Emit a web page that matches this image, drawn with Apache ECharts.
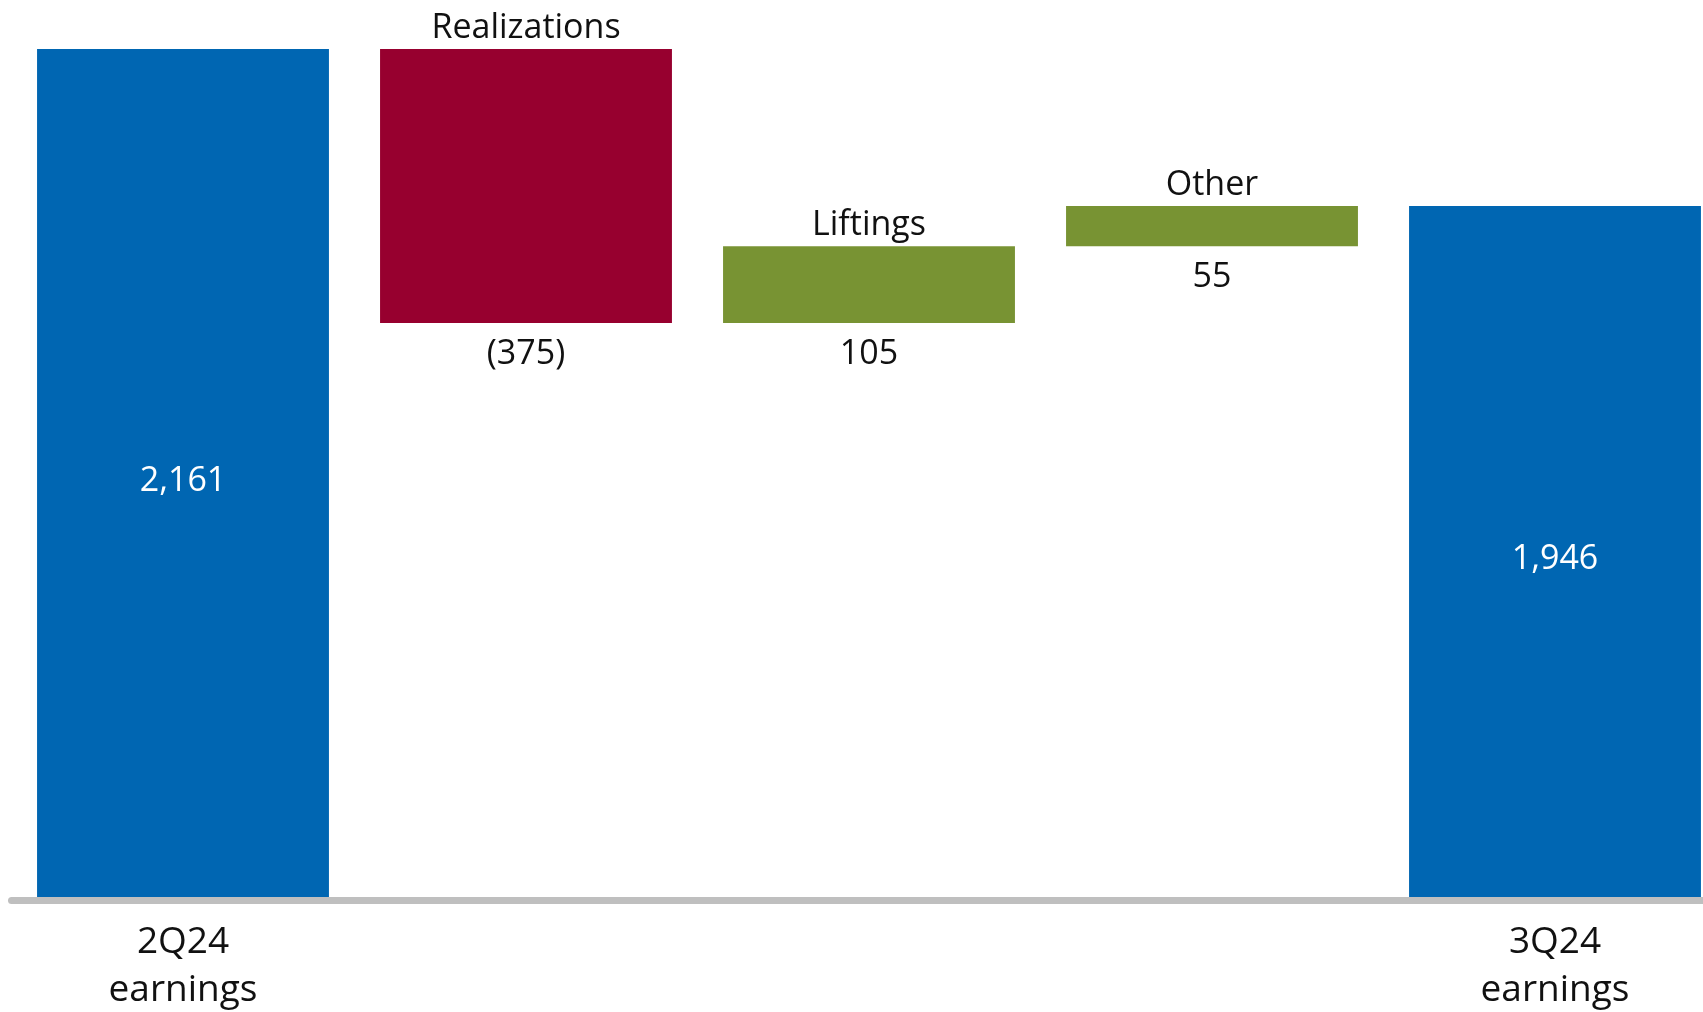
<!DOCTYPE html>
<html>
<head>
<meta charset="utf-8">
<title>Earnings walk 2Q24 to 3Q24</title>
<script src="https://cdn.jsdelivr.net/npm/echarts@6/dist/echarts.min.js"></script>
<style>
  html, body { margin: 0; padding: 0; background: #fff; }
  #chart { width: 1703px; height: 1012px; }
</style>
</head>
<body>
<div id="chart"></div>
<script>
// Earnings bridge, $ millions
const categories = ['2Q24 earnings', 'Realizations', 'Liftings', 'Other', '3Q24 earnings'];
const totals = [2161, null, null, null, 1946];
const changes = [null, -375, 105, 55, null];

const Y_MIN = 1000;
const Y_MAX = 2200;
const FONT = '"Open Sans", "Noto Sans", sans-serif';
const BLUE = '#0066b2';
const RED = '#97002f';
const GREEN = '#789333';

// Build [index, low, high, value, kind] rows for the walk
const rows = [];
let running = 0;
categories.forEach((name, i) => {
  if (totals[i] != null) {
    running = totals[i];
    rows.push([i, Y_MIN, totals[i], totals[i], 'total']);
  } else {
    const d = changes[i];
    const lo = Math.min(running, running + d);
    const hi = Math.max(running, running + d);
    rows.push([i, lo, hi, d, 'change']);
    running += d;
  }
});

function fmtTotal(v) {
  return v.toLocaleString('en-US');
}
function fmtChange(v) {
  return v < 0 ? '(' + Math.abs(v).toLocaleString('en-US') + ')' : v.toLocaleString('en-US');
}

const chart = echarts.init(document.getElementById('chart'), null, { renderer: 'canvas' });

chart.setOption({
  animation: false,
  backgroundColor: '#ffffff',
  // the last band runs past the right edge of the canvas
  grid: {
    left: 11.5, top: 20.5, width: 1715, height: 876.5,
    containLabel: false,
    outerBoundsMode: 'none'
  },
  xAxis: {
    type: 'category',
    data: categories,
    offset: 3.5,
    axisLine: { show: true, lineStyle: { color: '#bfbfbf', width: 7 } },
    axisTick: { show: false },
    axisLabel: {
      interval: 0,
      margin: 18,
      color: '#111',
      fontFamily: FONT,
      fontSize: 37,
      lineHeight: 48,
      formatter: (val, idx) => (totals[idx] != null ? val.replace(' ', '\n') : '')
    },
    splitLine: { show: false }
  },
  yAxis: {
    type: 'value',
    min: Y_MIN,
    max: Y_MAX,
    show: false,
    splitLine: { show: false }
  },
  series: [{
    type: 'custom',
    data: rows,
    encode: { x: 0, y: [1, 2] },
    renderItem: (params, api) => {
      const i = api.value(0);
      const lo = api.value(1);
      const hi = api.value(2);
      const v = api.value(3);
      const kind = rows[params.dataIndex][4];
      const band = api.size([1, 0])[0];
      const w = band * 0.851;
      const top = api.coord([i, hi]);
      const bot = api.coord([i, lo]);
      const cx = top[0];
      const color = kind === 'total' ? BLUE : (v < 0 ? RED : GREEN);
      const children = [{
        type: 'rect',
        shape: { x: cx - w / 2, y: top[1], width: w, height: bot[1] - top[1] },
        style: { fill: color }
      }];
      if (kind === 'total') {
        children.push({
          type: 'text',
          x: cx, y: (top[1] + bot[1]) / 2 + 8,
          style: {
            text: fmtTotal(v), fill: '#ffffff', fontFamily: FONT, fontSize: 34,
            align: 'center', verticalAlign: 'middle'
          }
        });
      } else {
        children.push({
          type: 'text',
          x: cx, y: top[1] - 21,
          style: {
            text: categories[i], fill: '#111', fontFamily: FONT, fontSize: 34,
            align: 'center', verticalAlign: 'middle'
          }
        });
        children.push({
          type: 'text',
          x: cx, y: bot[1] + 31.5,
          style: {
            text: fmtChange(v), fill: '#111', fontFamily: FONT, fontSize: 34,
            align: 'center', verticalAlign: 'middle'
          }
        });
      }
      return { type: 'group', children };
    }
  }]
});
</script>
</body>
</html>
